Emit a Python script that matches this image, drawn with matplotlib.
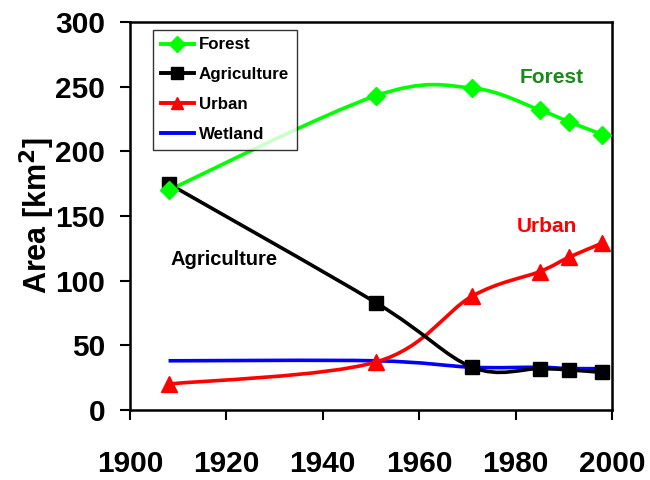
import numpy as np
import matplotlib
matplotlib.use("Agg")
import matplotlib.pyplot as plt
from matplotlib.path import Path
from matplotlib.patches import PathPatch
from matplotlib.lines import Line2D

years = [1908, 1951, 1971, 1985, 1991, 1998]
forest = [170, 243, 249, 232, 223, 213]
agriculture = [175, 83, 33, 32, 31, 29]
urban = [20, 37, 88, 107, 118, 129]
wetland = [38, 38, 33, 33, 32, 32]

plt.rcParams['font.family'] = ['Liberation Sans', 'DejaVu Sans']
plt.rcParams['font.weight'] = 'bold'

fig = plt.figure(figsize=(6.5, 4.8), dpi=100)
ax = fig.add_axes([0.2, 0.146, 0.7415, 0.808])


def smooth_path(x, y):
    pts = np.column_stack([x, y]).astype(float)
    n = len(pts)
    verts = [pts[0]]
    codes = [Path.MOVETO]
    for i in range(n - 1):
        p0 = pts[i - 1] if i > 0 else pts[i]
        p1 = pts[i]
        p2 = pts[i + 1]
        p3 = pts[i + 2] if i + 2 < n else pts[i + 1]
        c1 = p1 + (p2 - p0) / 6.0
        c2 = p2 - (p3 - p1) / 6.0
        verts += [c1, c2, p2]
        codes += [Path.CURVE4] * 3
    return Path(verts, codes)


series = [
    ("Forest", forest, "#00ff00", "D", 9.5),
    ("Agriculture", agriculture, "black", "s", 9.5),
    ("Urban", urban, "red", "^", 11),
    ("Wetland", wetland, "blue", None, 0),
]

handles = []
for name, vals, col, mk, ms in reversed(series):
    patch = PathPatch(smooth_path(years, vals), facecolor='none', edgecolor=col,
                      lw=2.6, zorder=2)
    ax.add_patch(patch)
    if mk:
        ax.plot(years, vals, ls='none', marker=mk, ms=ms, color=col, zorder=3)

for name, vals, col, mk, ms in series:
    handles.append(Line2D([], [], color=col, lw=2.8, marker=mk if mk else None,
                          ms=ms * 0.85, label=name))

ax.set_xlim(1900, 2000)
ax.set_ylim(0, 300)
ax.set_xticks(range(1900, 2001, 20))
ax.set_yticks(range(0, 301, 50))
ax.tick_params(direction='out', length=7, width=1.5, labelsize=21.5, pad=11)
ax.tick_params(axis='x', pad=22)
for s in ax.spines.values():
    s.set_linewidth(1.8)
ax.set_ylabel("Area [km$\\mathbf{^2}$]", fontsize=22, fontweight='bold')
ax.yaxis.set_label_coords(-0.152, 0.5)

leg = ax.legend(handles=handles, loc='upper left', bbox_to_anchor=(0.048, 0.98),
                fontsize=12.2, frameon=True, fancybox=False, edgecolor='black',
                handlelength=1.95, labelspacing=0.88, borderpad=0.45,
                handletextpad=0.3, borderaxespad=0)
leg.get_frame().set_linewidth(1.0)

ax.text(1987.5, 257.5, "Forest", color="#1a8a1a", fontsize=15, fontweight='bold', ha='center', va='center')
ax.text(1986.5, 141.5, "Urban", color="red", fontsize=15, fontweight='bold', ha='center', va='center')
ax.text(1919.6, 116, "Agriculture", color="black", fontsize=14.5, fontweight='bold', ha='center', va='center')

fig.savefig("out.png", dpi=100)
